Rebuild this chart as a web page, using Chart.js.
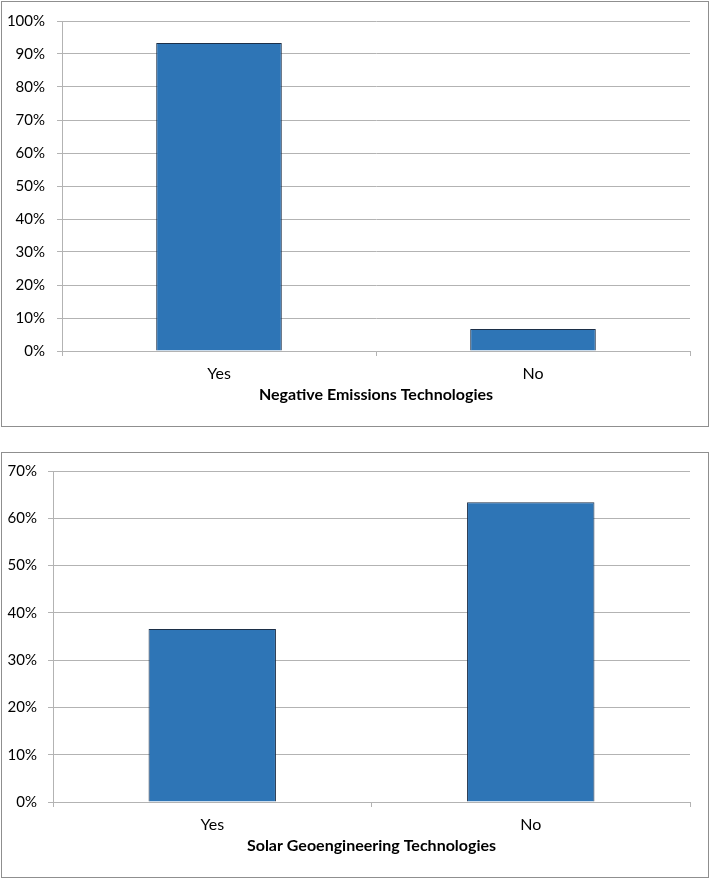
<!DOCTYPE html>
<html>
<head>
<meta charset="utf-8">
<script src="https://cdn.jsdelivr.net/npm/chart.js@4"></script>
<style>
  body { margin: 0; background: #fff; }
  .box { position: absolute; border: 1px solid #8f8f8f; box-sizing: border-box; }
  canvas { position: absolute; left: 0; }
</style>
</head>
<body>
<div class="box" style="left:1px; top:1px; width:708px; height:426px;"></div>
<div class="box" style="left:1px; top:452px; width:708px; height:426px;"></div>
<canvas id="neg" width="712" height="430" style="top:0px;"></canvas>
<canvas id="solar" width="712" height="438" style="top:440px;"></canvas>
<script>
const categories = ['Yes', 'No'];
const negativeValues = [93.3, 6.7];
const solarValues = [36.6, 63.4];
const negativeTitle = 'Negative Emissions Technologies';
const solarTitle = 'Solar Geoengineering Technologies';

const gridGray = '#b3b3b3';
const fontFamily = 'Lato, "Open Sans", sans-serif';

function makeChart(id, values, title, yMax, yWidth, yPad, pad) {
  new Chart(document.getElementById(id).getContext('2d'), {
    type: 'bar',
    data: {
      labels: categories,
      datasets: [{
        data: values,
        backgroundColor: '#2e75b6',
        borderColor: '#1c2f48',
        borderWidth: 1,
        barPercentage: 0.4,
        categoryPercentage: 1
      }]
    },
    options: {
      responsive: false,
      animation: false,
      layout: { padding: pad },
      plugins: {
        legend: { display: false },
        tooltip: { enabled: false }
      },
      scales: {
        x: {
          grid: { drawOnChartArea: false, color: gridGray, tickLength: 5 },
          border: { color: gridGray },
          ticks: { color: '#000', padding: 8, font: { family: fontFamily, size: 16 } },
          title: {
            display: true,
            text: title,
            color: '#000',
            padding: { top: 6, bottom: 4 },
            font: { family: fontFamily, size: 16, weight: 'bold' }
          },
          afterFit: (s) => { s.height = 57; }
        },
        y: {
          min: 0,
          max: yMax,
          grid: { color: gridGray, tickLength: 5 },
          border: { color: gridGray },
          ticks: {
            stepSize: 10,
            color: '#000',
            padding: yPad,
            font: { family: fontFamily, size: 15 },
            callback: (v) => v + '%'
          },
          afterFit: (s) => { s.width = yWidth; }
        }
      }
    }
  });
}

makeChart('neg', negativeValues, negativeTitle, 100, 62, 12, { top: 20, right: 22, left: 0, bottom: 22 });
makeChart('solar', solarValues, solarTitle, 70, 53, 11, { top: 31, right: 22, left: 0, bottom: 19 });
</script>
</body>
</html>
